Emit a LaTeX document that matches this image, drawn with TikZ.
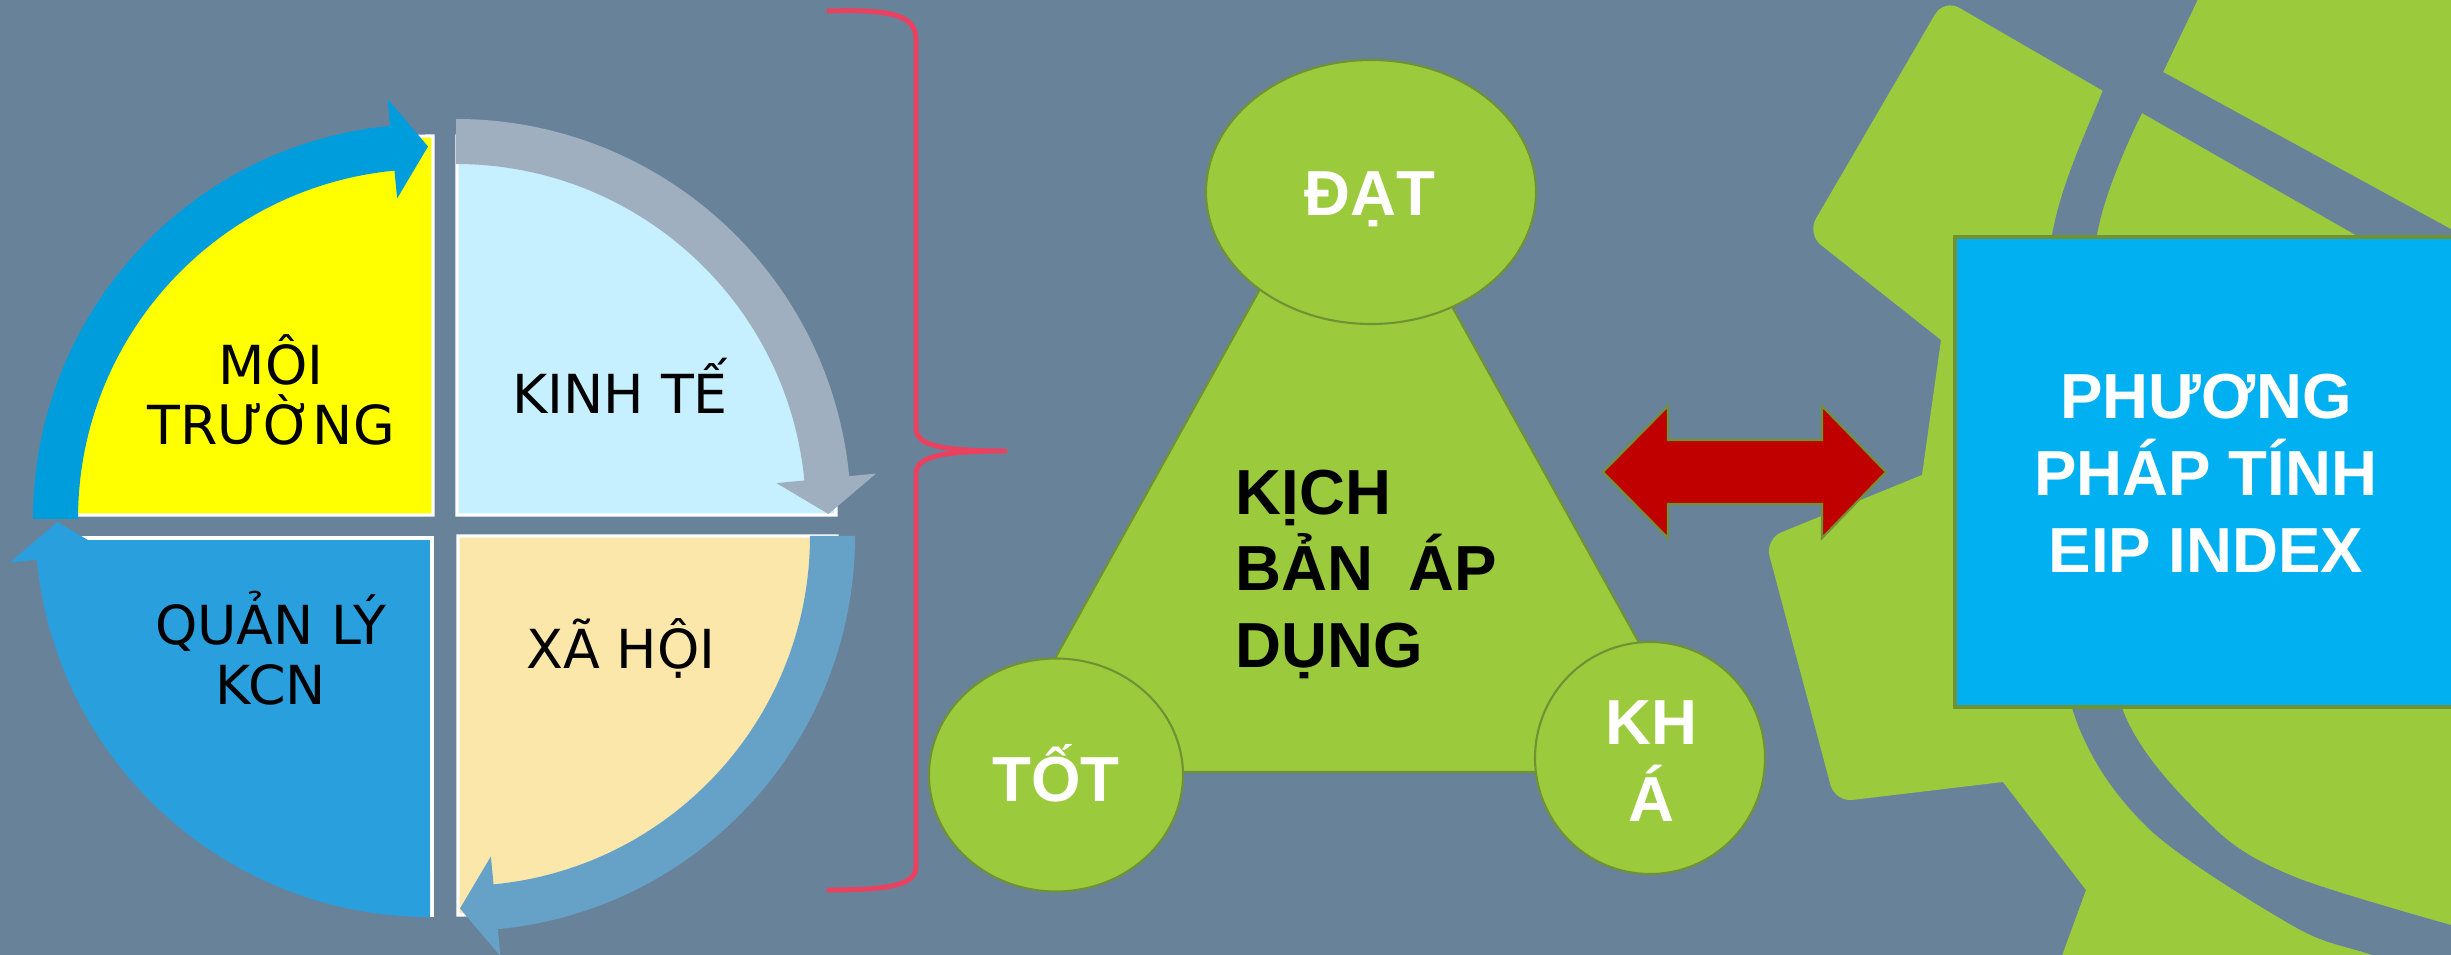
\documentclass[tikz,border=0pt]{standalone}
\usepackage{fontspec}
\setmainfont{DejaVu Sans}
\newfontfamily\libsans{Liberation Sans}
\definecolor{bg}{RGB}{104,131,153}
\definecolor{qyellow}{RGB}{255,255,0}
\definecolor{qcyan}{RGB}{198,239,255}
\definecolor{qbeige}{RGB}{251,231,170}
\definecolor{qblue}{RGB}{41,159,221}
\definecolor{arrA}{RGB}{0,157,220}
\definecolor{arrB}{RGB}{159,175,191}
\definecolor{arrC}{RGB}{102,161,200}
\definecolor{bracecol}{RGB}{233,65,95}
\definecolor{lime}{RGB}{155,203,61}
\definecolor{olivecol}{RGB}{112,146,52}
\definecolor{boxblue}{RGB}{0,176,240}
\definecolor{darkred}{RGB}{192,0,0}
\newcommand\cycarrow[3]{%
  \fill[#3, shift={#1}] (#2:395) arc[start angle=#2, end angle={#2+84.5}, radius=395]
    -- ({#2+84.5}:422) -- ({#2+90}:372.5) -- ({#2+84.5}:322) -- ({#2+84.5}:350)
    arc[start angle={#2+84.5}, end angle=#2, radius=350] -- cycle;}
\begin{document}
\begin{tikzpicture}[x=0.01cm,y=-0.01cm,
  quad/.style={draw=white,line width=0.9pt},
  qtext/.style={font=\fontsize{15.3}{17.1}\selectfont, text=black, align=center, anchor=base, inner sep=0pt},
  btext/.style={font=\libsans\bfseries\fontsize{18.1}{21.7}\selectfont, inner sep=0pt, anchor=base},
  greenshape/.style={fill=lime, draw=olivecol, line width=0.6pt},
  bracestyle/.style={draw=bracecol, line width=1.4pt}]
\useasboundingbox (0,0) rectangle (2451,955);
\clip (0,0) rectangle (2451,955);
\fill[bg] (0,0) rectangle (2451,955);

% ---------- gear (right) ----------
\fill[lime] (2103,91) [rounded corners=5pt] -- (1944,-1) -- (1807,234) [sharp corners] -- (1941,340) -- (1922,475)
  [rounded corners=5pt] -- (1765,539) -- (1835,802) [sharp corners] -- (2003,782) -- (2086,890) -- (2055,975)
  -- (2480,975) -- (2480,-20) -- (2207,-20) -- (2163,72) -- cycle;
\fill[bg] plot[smooth] coordinates {(2152,-20) (2103,90) (2052,235) (2036,470) (2072,708) (2147,827) (2295,927) (2372,955) (2480,992)}
  -- (2480,931) -- plot[smooth] coordinates {(2451,925) (2295,877) (2213,827) (2122,708) (2083,470) (2097,235) (2142,113)}
  -- (2480,306) -- (2480,245) -- (2163,72) -- (2207,-20) -- cycle;

% ---------- left cycle ----------
\filldraw[fill=qyellow, quad] (433,515) -- (54,515) arc[start angle=180, end angle=270, radius=379] -- cycle;
\filldraw[fill=qcyan, quad] (457,515) -- (457,136) arc[start angle=270, end angle=360, radius=379] -- cycle;
\filldraw[fill=qbeige, quad] (458,536) -- (837,536) arc[start angle=0, end angle=90, radius=379] -- cycle;
\fill[qblue] (432,538) -- (432,917) arc[start angle=90, end angle=180, radius=379] -- cycle;
\draw[quad] (53,538) -- (432,538) -- (432,917);
\cycarrow{(428,519)}{180}{arrA}
\cycarrow{(456,514)}{270}{arrB}
\cycarrow{(460,536)}{0}{arrC}
\cycarrow{(430,522)}{90}{qblue}
\node[qtext] (moi) at (271,444.8) {MÔI\\TRƯỜNG};
\node[qtext] (kt) at (620,414) {KINH TẾ};
\node[qtext] (ql) at (271,704.6) {QUẢN LÝ\\KCN};
\node[qtext] (xh) at (621,669) {XÃ HỘI};

% ---------- brace ----------
\draw[bracestyle] (827,11) .. controls (895,9) and (916,16) .. (916,40) -- (916,428)
  .. controls (916,444) and (935,451) .. (1007,451)
  .. controls (935,451) and (916,458) .. (916,474) -- (916,866)
  .. controls (916,884) and (895,890) .. (827,890);

% ---------- triangle ----------
\filldraw[greenshape] (1351,125) -- (1711,772) -- (992,772) -- cycle;
\filldraw[greenshape] (1371,192) ellipse[x radius=165, y radius=132];
\filldraw[greenshape] (1056,775) ellipse[x radius=127, y radius=116.5];
\filldraw[greenshape] (1650,758) ellipse[x radius=115, y radius=116];
\node[btext, anchor=base west, align=left] (kb) at (1235,667) {KỊCH\\BẢN\ \ ÁP\\DỤNG};
\node[btext, text=white] (dat) at (1370,216) {ĐẠT};
\node[btext, text=white] (tot) at (1056,801) {TỐT};
\node[btext, text=white, align=center] (kha) at (1651,821) {KH\\Á};

% ---------- double arrow ----------
\filldraw[fill=darkred, draw=olivecol, line width=0.6pt] (1603,472) -- (1668,406) -- (1668,440) -- (1822,440)
  -- (1822,406) -- (1886,472) -- (1822,538) -- (1822,504) -- (1668,504) -- (1668,538) -- cycle;

% ---------- box ----------
\filldraw[fill=boxblue, draw=olivecol, line width=0.9pt] (1955,237) rectangle (2470,707);
\node[btext, text=white, align=center, font=\libsans\bfseries\fontsize{18.1}{21.9}\selectfont] (pp) at (2206,573) {PHƯƠNG\\PHÁP TÍNH\\EIP INDEX};
\end{tikzpicture}
\end{document}
